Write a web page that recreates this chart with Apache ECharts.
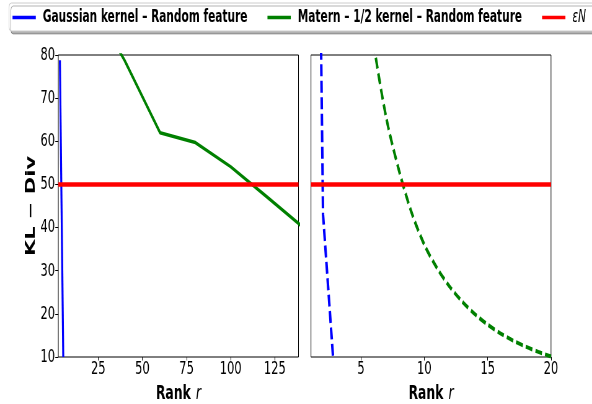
<!DOCTYPE html>
<html>
<head>
<meta charset="utf-8">
<script src="https://cdn.jsdelivr.net/npm/echarts@6/dist/echarts.min.js"></script>
<style>
html,body{margin:0;padding:0;background:#fff;}
#wrap{width:592px;height:404px;overflow:hidden;position:relative;}
#chart{width:955px;height:404px;transform:scaleX(0.6199);transform-origin:0 0;}
</style>
</head>
<body>
<div id="wrap"><div id="chart"></div></div>
<script>
// ---- data ----
const seriesNames = ['Gaussian kernel – Random feature', 'Matern – 1/2 kernel – Random feature', 'εN'];
const epsN = 50;
// left panel (solid)
const gaussLeftX = [3.3, 5.2];
const gaussLeftY = [78.8, 10];
const maternLeftX = [20, 40, 60, 80, 100, 120, 140];
const maternLeftY = [93.1, 78.7, 62.0, 59.7, 54.1, 47.3, 40.4];
// right panel (dashed)
const gaussRightX = [1, 2, 3];
const gaussRightY = [292, 43, 1.2];
const maternRightX = [1, 2, 3, 4, 5, 6, 7, 8, 9, 10, 11, 12, 13, 14, 15, 16, 17, 18, 19, 20];
const maternRightY = [330, 250, 185, 138, 104, 82.5, 65.3, 53.2, 43.4, 36.0, 30.6, 26.3, 22.8, 19.9, 17.5, 15.5, 13.8, 12.4, 11.2, 10.1];
// ticks
const yTicks = [10, 20, 30, 40, 50, 60, 70, 80];
const leftXTicks = [25, 50, 75, 100, 125];
const rightXTicks = [5, 10, 15, 20];

const zip = (xs, ys) => xs.map((x, i) => [x, ys[i]]);

// ---- layout (chart is drawn wide, then squeezed horizontally) ----
const S = 0.6199;
const px = v => v / S;
const FONT = 'DejaVu Sans';
const BLUE = '#0000ff', GREEN = '#008000', RED = '#ff0000';

const chart = echarts.init(document.getElementById('chart'));

const xAxisCommon = {
  type: 'value',
  splitLine: {show: false},
  axisLine: {show: false},
  axisTick: {show: true, inside: false, length: 3.5, lineStyle: {color: '#000', width: 1}},
  axisLabel: {fontFamily: FONT, fontSize: 18.5, color: '#000', margin: 3},
  name: '{b|Rank}{i|r}',
  nameLocation: 'middle',
  nameGap: 24,
  nameTextStyle: {
    rich: {
      b: {fontFamily: FONT, fontWeight: 'bold', fontSize: 20, color: '#000'},
      i: {fontFamily: FONT, fontStyle: 'italic', fontSize: 20, color: '#000', padding: [0, 0, 0, px(5)]}
    }
  }
};

const option = {
  animation: false,
  backgroundColor: '#fff',
  legend: {
    data: seriesNames,
    left: px(9),
    top: 3,
    width: 1400,
    icon: 'rect',
    itemWidth: px(23.3),
    itemHeight: 3.5,
    itemGap: px(20),
    padding: [6, px(20), 5, px(3.5)],
    backgroundColor: '#fff',
    borderColor: '#cccccc',
    borderWidth: 1,
    borderRadius: 4,
    shadowColor: 'rgba(0,0,0,0.3)',
    shadowOffsetX: 3,
    shadowOffsetY: 3,
    shadowBlur: 0,
    selectedMode: false,
    textStyle: {
      fontFamily: FONT, fontWeight: 'bold', fontSize: 17.1, color: '#000',
      padding: [0, 0, 0, px(3.9)],
      rich: {it: {fontFamily: FONT, fontStyle: 'italic', fontWeight: 'normal', fontSize: 17.1, color: '#000'}}
    },
    formatter: n => n === 'εN' ? '{it|εN}' : n
  },
  grid: [
    {left: px(58.3), width: px(240.2), top: 55, height: 302, outerBoundsMode: 'none', containLabel: false,
      show: true, borderColor: '#000', borderWidth: 1, backgroundColor: 'transparent'},
    {left: px(311), width: px(240), top: 55, height: 302, outerBoundsMode: 'none', containLabel: false,
      show: true, borderColor: '#000', borderWidth: 1, backgroundColor: 'transparent'}
  ],
  xAxis: [
    Object.assign({}, xAxisCommon, {gridIndex: 0, min: 2.4, max: 138.4,
      axisLabel: Object.assign({}, xAxisCommon.axisLabel, {customValues: leftXTicks}),
      axisTick: Object.assign({}, xAxisCommon.axisTick, {customValues: leftXTicks})}),
    Object.assign({}, xAxisCommon, {gridIndex: 1, min: 1.05, max: 20,
      axisLabel: Object.assign({}, xAxisCommon.axisLabel, {customValues: rightXTicks}),
      axisTick: Object.assign({}, xAxisCommon.axisTick, {customValues: rightXTicks})})
  ],
  yAxis: [
    {type: 'value', gridIndex: 0, min: 10, max: 80, interval: 10,
      splitLine: {show: false}, axisLine: {show: false},
      axisTick: {show: true, length: px(3), lineStyle: {color: '#000', width: 1}},
      axisLabel: {fontFamily: FONT, fontSize: 18.5, color: '#000', margin: px(3.3), customValues: yTicks},
      name: 'KL − Div', nameLocation: 'middle', nameRotate: 90, nameGap: 31,
      nameTextStyle: {fontFamily: FONT, fontWeight: 'bold', fontSize: 21, color: '#000'}
    },
    {type: 'value', gridIndex: 1, min: 10, max: 80, interval: 10,
      splitLine: {show: false}, axisLine: {show: false}, axisTick: {show: false}, axisLabel: {show: false}}
  ],
  series: [
    {name: seriesNames[0], type: 'line', xAxisIndex: 0, yAxisIndex: 0, data: zip(gaussLeftX, gaussLeftY),
      showSymbol: false, symbol: 'none', clip: true, color: BLUE, lineStyle: {color: BLUE, width: 3.2}, z: 3},
    {name: seriesNames[1], type: 'line', xAxisIndex: 0, yAxisIndex: 0, data: zip(maternLeftX, maternLeftY),
      showSymbol: false, symbol: 'none', clip: true, color: GREEN, lineStyle: {color: GREEN, width: 3.5}, z: 3},
    {name: seriesNames[2], type: 'line', xAxisIndex: 0, yAxisIndex: 0, data: [],
      color: RED, lineStyle: {color: RED},
      markLine: {silent: true, symbol: 'none', label: {show: false}, lineStyle: {color: RED, width: 4.5, type: 'solid'},
        data: [{yAxis: epsN}]}, z: 4},
    {name: seriesNames[0], type: 'line', xAxisIndex: 1, yAxisIndex: 1, data: zip(gaussRightX, gaussRightY),
      showSymbol: false, symbol: 'none', clip: true, color: BLUE, lineStyle: {color: BLUE, width: 4, type: [12, 4.5]}, z: 3},
    {name: seriesNames[1], type: 'line', xAxisIndex: 1, yAxisIndex: 1, data: zip(maternRightX, maternRightY),
      showSymbol: false, symbol: 'none', clip: true, smooth: 0.3, color: GREEN, lineStyle: {color: GREEN, width: 4, type: [11, 5]}, z: 3},
    {name: seriesNames[2], type: 'line', xAxisIndex: 1, yAxisIndex: 1, data: [],
      color: RED, lineStyle: {color: RED},
      markLine: {silent: true, symbol: 'none', label: {show: false}, lineStyle: {color: RED, width: 4.5, type: 'solid'},
        data: [{yAxis: epsN}]}, z: 4}
  ]
};
chart.setOption(option);
</script>
</body>
</html>
